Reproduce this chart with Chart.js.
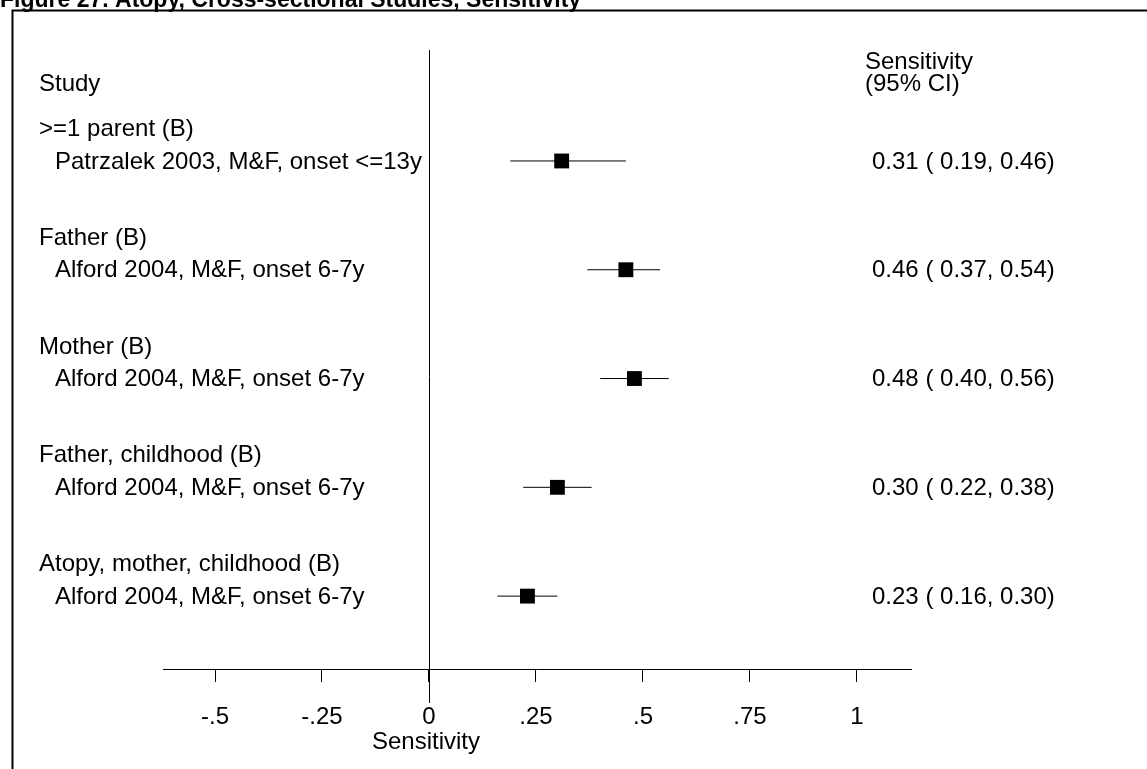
<!DOCTYPE html>
<html>
<head>
<meta charset="utf-8">
<script src="https://cdn.jsdelivr.net/npm/chart.js@4"></script>
<style>
  html, body { margin: 0; padding: 0; background: #fff; }
  canvas { display: block; }
</style>
</head>
<body>
<canvas id="forest" width="1147" height="769"></canvas>
<script>
var groups = [
  ">=1 parent (B)",
  "Father (B)",
  "Mother (B)",
  "Father, childhood (B)",
  "Atopy, mother, childhood (B)",
];
var studies = [
  "Patrzalek 2003, M&F, onset <=13y",
  "Alford 2004, M&F, onset 6-7y",
  "Alford 2004, M&F, onset 6-7y",
  "Alford 2004, M&F, onset 6-7y",
  "Alford 2004, M&F, onset 6-7y",
];
var estimates = [0.31, 0.46, 0.48, 0.3, 0.23];
var lower = [0.19, 0.37, 0.4, 0.22, 0.16];
var upper = [0.46, 0.54, 0.56, 0.38, 0.3];
var tickValues = [-0.5, -0.25, 0, 0.25, 0.5, 0.75, 1];
var tickLabels = ["-.5", "-.25", "0", ".25", ".5", ".75", "1"];

var FONT = "Liberation Sans, Arial, sans-serif";
var rows = estimates.map(function (v, i) { return i + 1; });

// confidence interval lines, one dataset per study
var ciSets = lower.map(function (lo, i) {
  return {
    type: "line",
    data: [{ x: lo, y: rows[i] }, { x: upper[i], y: rows[i] }],
    borderColor: "#000",
    borderWidth: 1,
    pointRadius: 0,
    fill: false,
  };
});

var textPlugin = {
  id: "forestText",
  afterDraw: function (chart) {
    var ctx = chart.ctx;
    var xs = chart.scales.x;
    var ys = chart.scales.y;
    ctx.save();

    // frame
    ctx.strokeStyle = "#000";
    ctx.lineWidth = 2;
    ctx.beginPath();
    ctx.moveTo(12.5, 769);
    ctx.lineTo(12.5, 10.5);
    ctx.lineTo(1147, 10.5);
    ctx.stroke();

    // title, clipped at the top like the original
    ctx.fillStyle = "#000";
    ctx.font = "bold 23px " + FONT;
    ctx.textAlign = "left";
    ctx.textBaseline = "alphabetic";
    ctx.fillText("Figure 27. Atopy, Cross-sectional Studies, Sensitivity", 0, 7);

    // null line
    var x0 = Math.round(xs.getPixelForValue(0)) + 0.5;
    ctx.lineWidth = 1;
    ctx.beginPath();
    ctx.moveTo(x0, chart.chartArea.top);
    ctx.lineTo(x0, chart.chartArea.bottom + 34);
    ctx.stroke();

    ctx.textBaseline = "middle";
    ctx.font = "24px " + FONT;
    ctx.fillText("Sensitivity", 865, 62);
    ctx.fillText("(95% CI)", 865, 84);

    ctx.fillText("Study", 39, ys.getPixelForValue(0.29) + 1);
    rows.forEach(function (r, i) {
      ctx.fillText(groups[i], 39, ys.getPixelForValue(r - 0.3) + 1);
      ctx.fillText(studies[i], 55, ys.getPixelForValue(r) + 1);
      var txt = estimates[i].toFixed(2) + " ( " + lower[i].toFixed(2) + ", " + upper[i].toFixed(2) + ")";
      ctx.fillText(txt, 872, ys.getPixelForValue(r) + 1);
    });

    ctx.textAlign = "center";
    ctx.fillText("Sensitivity", xs.getPixelForValue(0) - 3, 742);
    ctx.restore();
  },
};

new Chart("forest", {
  type: "scatter",
  data: {
    datasets: ciSets.concat([
      {
        data: estimates.map(function (v, i) { return { x: v, y: rows[i] }; }),
        pointStyle: "rect",
        pointRadius: 10.5,
        backgroundColor: "#000",
        borderColor: "#000",
        borderWidth: 0,
      },
    ]),
  },
  options: {
    responsive: false,
    animation: false,
    devicePixelRatio: 1,
    layout: { padding: { left: 163, right: 236, top: 50, bottom: 0 } },
    plugins: { legend: { display: false }, tooltip: { enabled: false } },
    scales: {
      x: {
        type: "linear",
        min: -0.6215,
        max: 1.1262,
        afterBuildTicks: function (scale) {
          scale.ticks = tickValues.map(function (v) { return { value: v }; });
        },
        afterFit: function (scale) { scale.height = 100; },
        border: { display: true, color: "#000", width: 1 },
        grid: { drawOnChartArea: false, drawTicks: true, tickLength: 13, color: "#000" },
        ticks: {
          color: "#000",
          font: { family: FONT, size: 24 },
          padding: 21,
          maxRotation: 0,
          autoSkip: false,
          callback: function (v, i) { return tickLabels[i]; },
        },
      },
      y: {
        type: "linear",
        display: false,
        reverse: true,
        min: -0.02,
        max: 5.67,
      },
    },
  },
  plugins: [textPlugin],
});
</script>
</body>
</html>
